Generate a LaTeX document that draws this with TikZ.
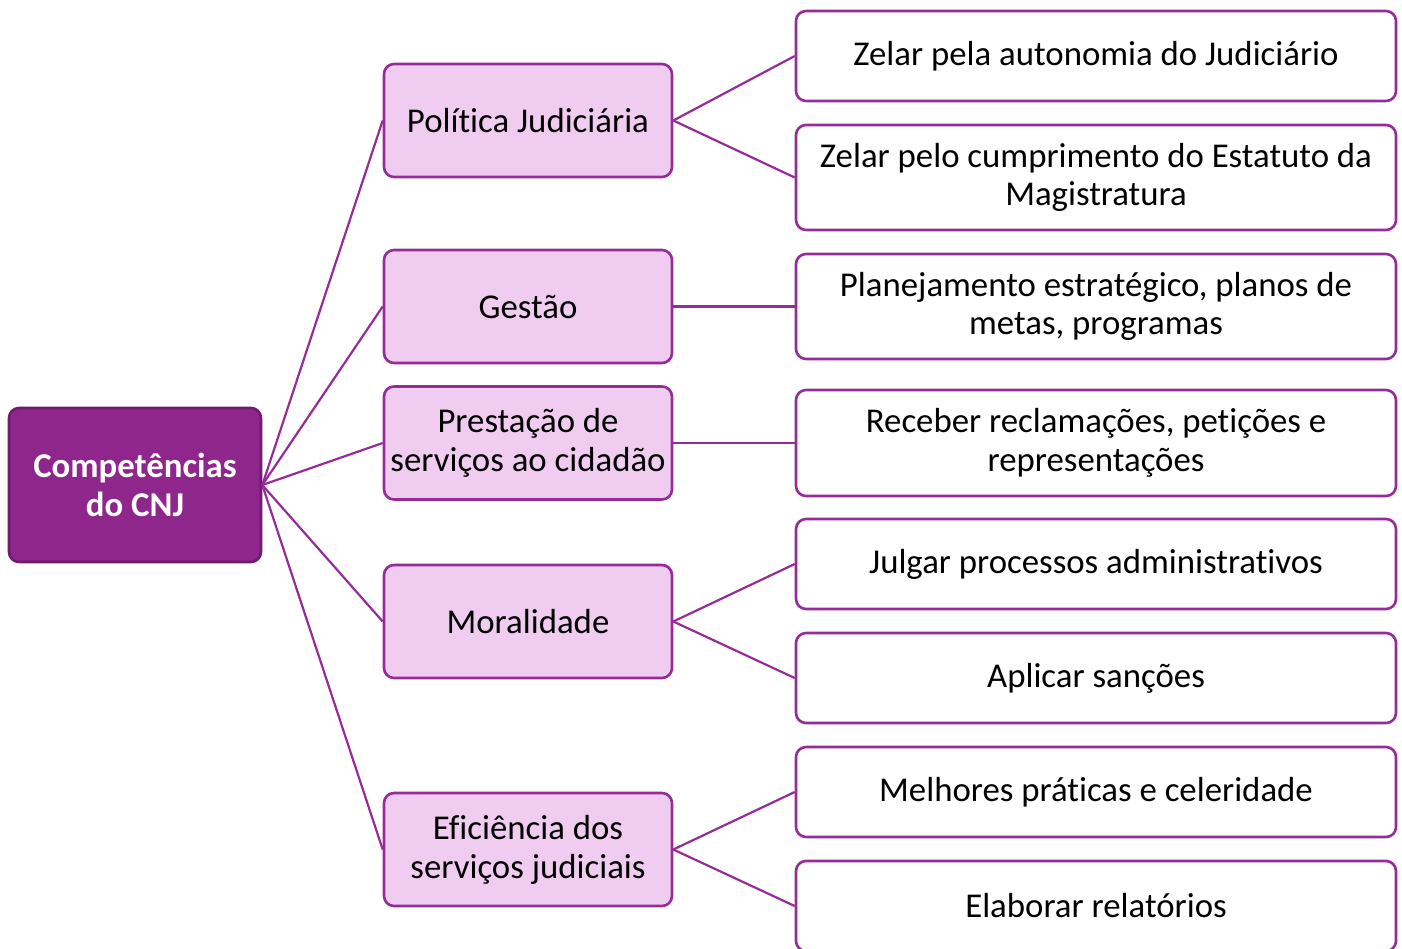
\documentclass[tikz,border=0pt]{standalone}
\usepackage{fontspec}
\setmainfont[Ligatures=NoCommon]{Carlito}
\definecolor{rootfill}{RGB}{143,38,140}
\definecolor{rootdraw}{RGB}{112,28,110}
\definecolor{midfill}{RGB}{240,204,240}
\definecolor{edge}{RGB}{150,44,152}
\begin{document}
\begin{tikzpicture}[x=1pt,y=-1pt,
  base/.style={rounded corners=10pt, line width=2.6pt, inner sep=0pt, align=center,
    font=\fontsize{34.8}{38.8}\selectfont},
  rootbox/.style={base, draw=rootdraw, fill=rootfill, text=white, font=\fontsize{34.8}{38.8}\selectfont\bfseries,
    minimum width=252pt, minimum height=154pt},
  midbox/.style={base, draw=edge, fill=midfill, minimum width=288pt, minimum height=113pt},
  leafbox/.style={base, draw=edge, fill=white, minimum width=600pt},
  conn/.style={draw=edge, line width=2.2pt}]
\useasboundingbox (0,0) rectangle (1402,948);
\node[rootbox] (root) at (135,485) {Competências\\do CNJ};
\node[midbox] (m1) at (528,120.5) {Política Judiciária};
\node[midbox] (m2) at (528,306.5) {Gestão};
\node[midbox] (m3) at (528,443) {Prestação de\\serviços ao cidadão};
\node[midbox] (m4) at (528,621.5) {Moralidade};
\node[midbox] (m5) at (528,849.5) {Eficiência dos\\serviços judiciais};
\node[leafbox, minimum height=90pt] (l1) at (1096,56) {Zelar pela autonomia do Judiciário};
\node[leafbox, minimum height=105pt] (l2) at (1096,177.5) {Zelar pelo cumprimento do Estatuto da\\Magistratura};
\node[leafbox, minimum height=105pt] (l3) at (1096,306.5) {Planejamento estratégico, planos de\\metas, programas};
\node[leafbox, minimum height=106pt] (l4) at (1096,443) {Receber reclamações, petições e\\representações};
\node[leafbox, minimum height=90pt] (l5) at (1096,564) {Julgar processos administrativos};
\node[leafbox, minimum height=90pt] (l6) at (1096,678) {Aplicar sanções};
\node[leafbox, minimum height=90pt] (l7) at (1096,792) {Melhores práticas e celeridade};
\node[leafbox, minimum height=90pt] (l8) at (1096,906) {Elaborar relatórios};
\foreach \m in {m1,m2,m3,m4,m5} \draw[conn] (root.east) -- (\m.west);
\draw[conn] (m1.east) -- (l1.west);
\draw[conn] (m1.east) -- (l2.west);
\draw[conn] (m2.east) -- (l3.west);
\draw[conn] (m3.east) -- (l4.west);
\draw[conn] (m4.east) -- (l5.west);
\draw[conn] (m4.east) -- (l6.west);
\draw[conn] (m5.east) -- (l7.west);
\draw[conn] (m5.east) -- (l8.west);
\end{tikzpicture}
\end{document}
